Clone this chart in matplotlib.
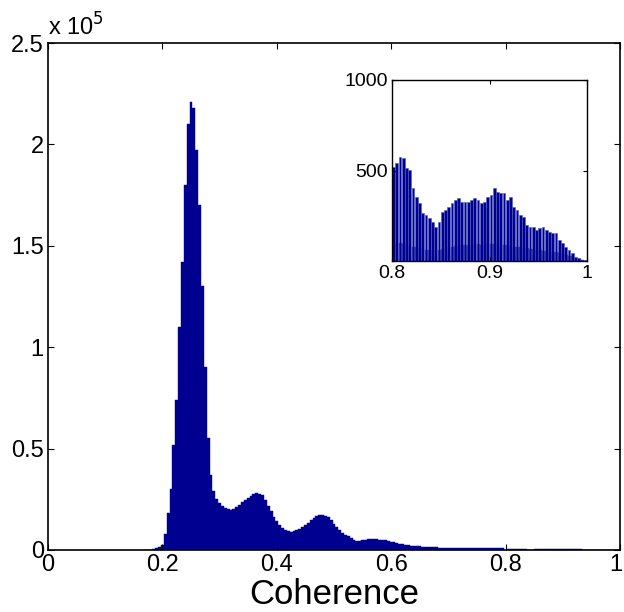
import numpy as np
import matplotlib
matplotlib.use('Agg')
import matplotlib.pyplot as plt
import matplotlib.transforms as mtransforms
from matplotlib.ticker import FuncFormatter

plt.rcParams['font.family'] = ['Liberation Sans', 'DejaVu Sans']

# main histogram: bin centres every 0.005 from 0.17 to 0.795
main_start, main_width = 0.17, 0.005
main_counts = [
    0, 0, 200, 500, 1000, 1500, 2500, 8000, 18000, 30000,
    52000, 74000, 110000, 142000, 180000, 210000, 221000, 218000, 197000, 170000,
    130000, 90000, 55000, 37000, 29000, 25000, 23000, 21500, 20500, 20000,
    19800, 20200, 21000, 22000, 23500, 24500, 25500, 26500, 27500, 28000,
    27500, 27000, 24500, 21500, 19000, 16500, 14500, 12500, 11000, 10000,
    9200, 9000, 9300, 9900, 10500, 11300, 12300, 13500, 14800, 16000,
    16800, 17500, 17300, 17000, 16200, 15000, 13000, 11500, 9800, 8600,
    7600, 6800, 6000, 5000, 4600, 4600, 4800, 5000, 5200, 5300,
    5300, 5200, 5100, 5000, 4800, 4500, 4100, 3700, 3300, 3000,
    2800, 2600, 2400, 2200, 2000, 1900, 1800, 1700, 1600, 1500,
    1400, 1300, 1250, 1200, 1200, 1150, 1150, 1100, 1100, 1100,
    1100, 1050, 1050, 1000, 1000, 1000, 950, 950, 950, 900,
    900, 900, 850, 850, 800, 800,
]

# tail histogram (inset): 60 bins between 0.8 and 1.0
tail_counts = [
    521, 540, 576, 567, 512, 503, 401, 355, 319, 263,
    254, 236, 217, 190, 217, 273, 282, 300, 319, 337,
    346, 328, 328, 328, 337, 346, 337, 319, 328, 355,
    365, 401, 383, 374, 374, 337, 355, 300, 282, 254,
    245, 199, 190, 190, 171, 180, 190, 171, 162, 153,
    153, 116, 98, 79, 61, 42, 24, 15, 6, 3,
]
tail_low = [
    95, 95, 100, 95, 90, 85, 80, 75, 70, 65,
    60, 60, 60, 60, 62, 65, 70, 75, 80, 82,
    85, 88, 90, 90, 90, 92, 92, 90, 90, 92,
    95, 95, 95, 92, 90, 88, 85, 80, 78, 75,
    72, 70, 68, 65, 62, 60, 58, 55, 52, 50,
    48, 45, 40, 35, 30, 25, 18, 12, 6, 2,
]

navy = '#000090'
edge = '#5060c0'

fig = plt.figure(figsize=(6.24, 6.12), dpi=100)
ax = fig.add_axes([48/624, 62/612, 572/624, 507/612])

main_x = main_start + main_width * np.arange(len(main_counts))
ax.bar(main_x, main_counts, width=main_width,
       color=navy, edgecolor=navy, linewidth=0.3)
tail_w = 0.2 / len(tail_counts)
tail_x = 0.8 + tail_w * np.arange(len(tail_counts))
ax.bar(tail_x, tail_counts, width=tail_w, align='edge',
       color=navy, edgecolor=navy, linewidth=0.3)

ax.set_xlim(0, 1)
ax.set_ylim(0, 2.5e5)
ax.set_xticks([0, 0.2, 0.4, 0.6, 0.8, 1])
ax.set_yticks([0, 0.5e5, 1e5, 1.5e5, 2e5, 2.5e5])
ax.xaxis.set_major_formatter(FuncFormatter(lambda v, p: '%g' % v))
ax.yaxis.set_major_formatter(FuncFormatter(lambda v, p: '%g' % (v / 1e5)))
ax.tick_params(direction='in', length=4, width=0.8, labelsize=17,
               top=True, right=True, pad=3)
for s in ax.spines.values():
    s.set_linewidth(1.2)
ax.set_xlabel('Coherence', fontsize=25, labelpad=1)
ax.text(0.0, 1.004, r'x 10$^{5}$', transform=ax.transAxes,
        fontsize=17, ha='left', va='bottom')

# keep the last x label "1" inside the figure
fig.canvas.draw()
last = ax.get_xticklabels()[-1]
last.set_transform(last.get_transform() +
                   mtransforms.ScaledTranslation(-3/72, 0, fig.dpi_scale_trans))

# inset
ins = fig.add_axes([392/624, 351/612, 195/624, 181/612])
ins.bar(tail_x, tail_low, width=tail_w, align='edge',
        color=navy, edgecolor=navy, linewidth=0.2)
ins.bar(tail_x, tail_counts, width=tail_w * 0.85, align='edge',
        color=navy, edgecolor=edge, linewidth=0.4)
ins.set_xlim(0.8, 1)
ins.set_ylim(0, 1000)
ins.set_xticks([0.8, 0.9, 1])
ins.set_yticks([500, 1000])
ins.xaxis.set_major_formatter(FuncFormatter(lambda v, p: '%g' % v))
ins.tick_params(direction='in', length=3, width=0.8, labelsize=14,
                top=True, right=True, pad=3)
for s in ins.spines.values():
    s.set_linewidth(1.0)

fig.savefig('out.png', dpi=100)
